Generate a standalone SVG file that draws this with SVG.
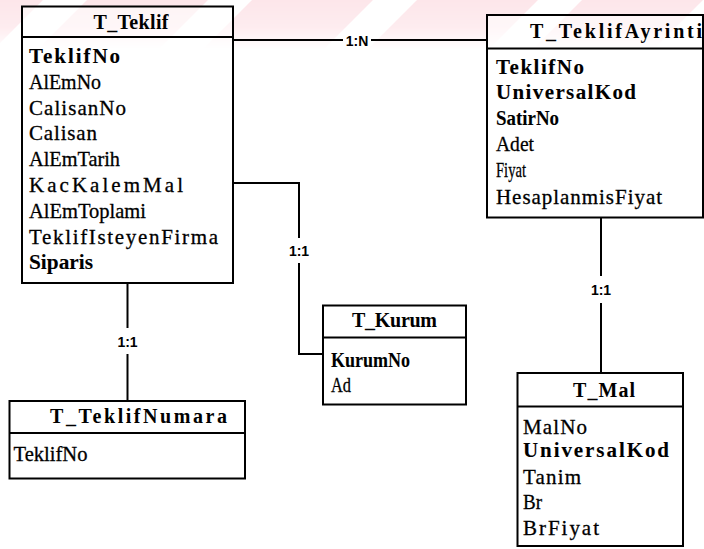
<svg xmlns="http://www.w3.org/2000/svg" width="704" height="549" viewBox="0 0 704 549">
  <style>
    .box { fill: #ffffff; stroke: #000000; stroke-width: 2; }
    .sep { stroke: #000000; stroke-width: 2; }
    .title { font-family: "Liberation Serif", "Times New Roman", serif; font-weight: bold; font-size: 20px; fill: #000; }
    .f { font-family: "Liberation Serif", "Times New Roman", serif; font-size: 21px; fill: #000; stroke: #000; stroke-width: 0.3; }
    .k { font-weight: bold; stroke-width: 0.1; }
    .link { fill: none; stroke: #000000; stroke-width: 2; }
    .card { font-family: "Liberation Sans", Arial, sans-serif; font-weight: bold; font-size: 14px; fill: #000; text-anchor: middle; }
  </style>
  <defs>
    <linearGradient id="fade" x1="0" y1="0" x2="0" y2="1">
      <stop offset="0" stop-color="#fff" stop-opacity="1"/>
      <stop offset="0.55" stop-color="#fff" stop-opacity="0.75"/>
      <stop offset="1" stop-color="#fff" stop-opacity="0"/>
    </linearGradient>
    <mask id="topFade" maskUnits="userSpaceOnUse" x="0" y="0" width="704" height="50">
      <rect x="0" y="0" width="704" height="50" fill="url(#fade)"/>
    </mask>
  </defs>

  <rect x="0" y="0" width="704" height="549" fill="#ffffff"/>

  <!-- faint pink banding along the top edge -->
  <g id="backdrop" mask="url(#topFade)" fill="#fde6ea">
    <polygon points="-50,0 43,0 -7,50 -100,50"/>
    <polygon points="87,0 208,0 158,50 37,50"/>
    <polygon points="252,0 373,0 323,50 202,50"/>
    <polygon points="417,0 538,0 488,50 367,50"/>
    <polygon points="582,0 703,0 653,50 532,50"/>
    <polygon points="747,0 868,0 818,50 697,50"/>
  </g>

  <g id="connectors">
    <!-- T_Teklif to T_TeklifAyrinti -->
    <path class="link" d="M233,40 H343"/>
    <path class="link" d="M371,40 H487"/>
    <text class="card" x="357" y="45.5">1:N</text>
    <!-- T_Teklif to T_Kurum -->
    <path class="link" d="M233,183 H299 V238"/>
    <path class="link" d="M299,263 V354 H323"/>
    <text class="card" x="299" y="255.5">1:1</text>
    <!-- T_Teklif to T_TeklifNumara -->
    <path class="link" d="M127.5,283 V328"/>
    <path class="link" d="M127.5,354 V401"/>
    <text class="card" x="127.5" y="346.5">1:1</text>
    <!-- T_TeklifAyrinti to T_Mal -->
    <path class="link" d="M601,217 V276"/>
    <path class="link" d="M601,303 V373"/>
    <text class="card" x="601" y="295">1:1</text>
  </g>

  <g id="T_Teklif">
    <rect class="box" x="22" y="6.5" width="211" height="276.5" fill-opacity="0.55"/>
    <line class="sep" x1="22" y1="37" x2="233" y2="37"/>
    <text class="title" x="93.5" y="28.5" textLength="75" lengthAdjust="spacing">T_Teklif</text>
    <text class="f k" x="29" y="63" textLength="91" lengthAdjust="spacing">TeklifNo</text>
    <text class="f" x="29" y="88.8" textLength="72" lengthAdjust="spacingAndGlyphs">AlEmNo</text>
    <text class="f" x="29" y="114.6" textLength="97" lengthAdjust="spacing">CalisanNo</text>
    <text class="f" x="29" y="140.4" textLength="68" lengthAdjust="spacing">Calisan</text>
    <text class="f" x="29" y="166.2" textLength="91" lengthAdjust="spacingAndGlyphs">AlEmTarih</text>
    <text class="f" x="29" y="192" textLength="154" lengthAdjust="spacing">KacKalemMal</text>
    <text class="f" x="29" y="217.8" textLength="117" lengthAdjust="spacingAndGlyphs">AlEmToplami</text>
    <text class="f" x="29" y="243.6" textLength="189" lengthAdjust="spacing">TeklifIsteyenFirma</text>
    <text class="f k" x="29" y="269.4" textLength="64" lengthAdjust="spacingAndGlyphs">Siparis</text>
  </g>

  <g id="T_TeklifAyrinti">
    <rect class="box" x="487" y="15" width="216" height="202.5" fill-opacity="0.55"/>
    <line class="sep" x1="487" y1="48.5" x2="703" y2="48.5"/>
    <text class="title" x="530" y="38" textLength="172" lengthAdjust="spacing">T_TeklifAyrinti</text>
    <text class="f k" x="496" y="73.5" textLength="88" lengthAdjust="spacing">TeklifNo</text>
    <text class="f k" x="496" y="98.5" textLength="140" lengthAdjust="spacing">UniversalKod</text>
    <text class="f k" x="496" y="125" textLength="63" lengthAdjust="spacingAndGlyphs">SatirNo</text>
    <text class="f" x="496" y="151" textLength="38" lengthAdjust="spacingAndGlyphs">Adet</text>
    <text class="f" x="496" y="177" textLength="30" lengthAdjust="spacingAndGlyphs">Fiyat</text>
    <text class="f" x="496" y="203.5" textLength="166" lengthAdjust="spacing">HesaplanmisFiyat</text>
  </g>

  <g id="T_Kurum">
    <rect class="box" x="323" y="305.5" width="143" height="99"/>
    <line class="sep" x1="323" y1="337.5" x2="466" y2="337.5"/>
    <text class="title" x="352" y="326.5" textLength="85" lengthAdjust="spacing">T_Kurum</text>
    <text class="f k" x="331" y="367" textLength="79" lengthAdjust="spacingAndGlyphs">KurumNo</text>
    <text class="f" x="331" y="392" textLength="20" lengthAdjust="spacingAndGlyphs">Ad</text>
  </g>

  <g id="T_TeklifNumara">
    <rect class="box" x="9.5" y="401" width="235.5" height="77.5"/>
    <line class="sep" x1="9.5" y1="433" x2="245" y2="433"/>
    <text class="title" x="50" y="423" textLength="177" lengthAdjust="spacing">T_TeklifNumara</text>
    <text class="f" x="13.5" y="461" textLength="74" lengthAdjust="spacingAndGlyphs">TeklifNo</text>
  </g>

  <g id="T_Mal">
    <rect class="box" x="517.5" y="373" width="165.5" height="173"/>
    <line class="sep" x1="517.5" y1="406.5" x2="683" y2="406.5"/>
    <text class="title" x="573" y="396.5" textLength="62" lengthAdjust="spacing">T_Mal</text>
    <text class="f" x="523" y="434" textLength="64" lengthAdjust="spacing">MalNo</text>
    <text class="f k" x="523" y="457" textLength="146" lengthAdjust="spacing">UniversalKod</text>
    <text class="f" x="523" y="484" textLength="58" lengthAdjust="spacing">Tanim</text>
    <text class="f" x="523" y="509" textLength="19" lengthAdjust="spacingAndGlyphs">Br</text>
    <text class="f" x="523" y="535" textLength="76" lengthAdjust="spacing">BrFiyat</text>
  </g>
</svg>
